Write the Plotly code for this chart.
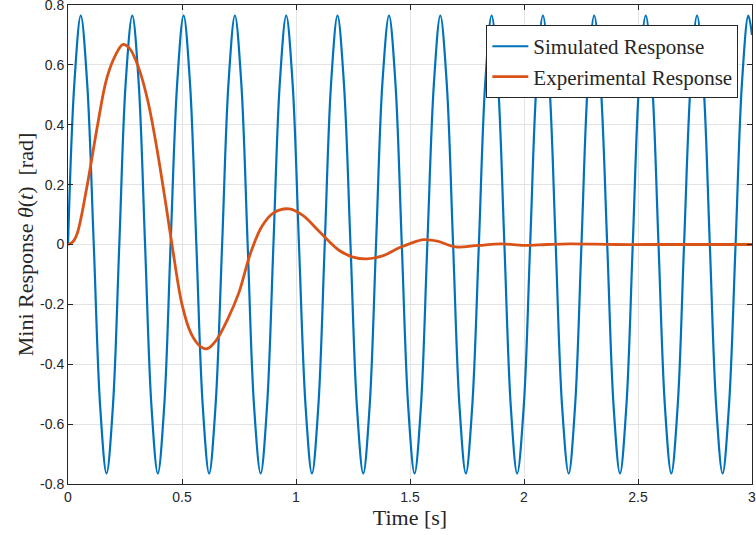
import plotly.graph_objects as go

# simulated response: peaks / zero crossings / troughs read every 1/8 period
sim_t = [
    0.000, 0.028, 0.056, 0.084, 0.113, 0.141, 0.169, 0.197,
    0.225, 0.253, 0.282, 0.310, 0.338, 0.366, 0.394, 0.422,
    0.450, 0.479, 0.507, 0.535, 0.563, 0.591, 0.619, 0.647,
    0.676, 0.704, 0.732, 0.760, 0.788, 0.816, 0.845, 0.873,
    0.901, 0.929, 0.957, 0.985, 1.013, 1.042, 1.070, 1.098,
    1.126, 1.154, 1.182, 1.210, 1.239, 1.267, 1.295, 1.323,
    1.351, 1.379, 1.408, 1.436, 1.464, 1.492, 1.520, 1.548,
    1.576, 1.605, 1.633, 1.661, 1.689, 1.717, 1.745, 1.773,
    1.802, 1.830, 1.858, 1.886, 1.914, 1.942, 1.970, 1.999,
    2.027, 2.055, 2.083, 2.111, 2.139, 2.167, 2.196, 2.224,
    2.252, 2.280, 2.308, 2.336, 2.365, 2.393, 2.421, 2.449,
    2.477, 2.505, 2.534, 2.562, 2.590, 2.618, 2.646, 2.674,
    2.702, 2.731, 2.759, 2.787, 2.815, 2.843, 2.871, 2.899,
    2.928, 2.956, 2.984, 3.000,
]
sim_y = [
    0, 0.54, 0.765, 0.54, 0, -0.54, -0.765, -0.54,
    0, 0.54, 0.765, 0.54, 0, -0.54, -0.765, -0.54,
    0, 0.54, 0.765, 0.54, 0, -0.54, -0.765, -0.54,
    0, 0.54, 0.765, 0.54, 0, -0.54, -0.765, -0.54,
    0, 0.54, 0.765, 0.54, 0, -0.54, -0.765, -0.54,
    0, 0.54, 0.765, 0.54, 0, -0.54, -0.765, -0.54,
    0, 0.54, 0.765, 0.54, 0, -0.54, -0.765, -0.54,
    0, 0.54, 0.765, 0.54, 0, -0.54, -0.765, -0.54,
    0, 0.54, 0.765, 0.54, 0, -0.54, -0.765, -0.54,
    0, 0.54, 0.765, 0.54, 0, -0.54, -0.765, -0.54,
    0, 0.54, 0.765, 0.54, 0, -0.54, -0.765, -0.54,
    0, 0.54, 0.765, 0.54, 0, -0.54, -0.765, -0.54,
    0, 0.54, 0.765, 0.54, 0, -0.54, -0.765, -0.54,
    0, 0.54, 0.765, 0.70,
]

# experimental response (damped)
exp_t = [0, 0.02, 0.04, 0.08, 0.13, 0.17, 0.21, 0.24, 0.27, 0.31, 0.35, 0.39,
         0.43, 0.46, 0.50, 0.54, 0.58, 0.61, 0.65, 0.70, 0.75, 0.80, 0.85, 0.90,
         0.97, 1.03, 1.10, 1.19, 1.25, 1.31, 1.38, 1.45, 1.50, 1.56, 1.62, 1.70,
         1.80, 1.90, 2.00, 2.10, 2.20, 2.40, 2.60, 2.80, 3.00]
exp_y = [0, 0.008, 0.036, 0.18, 0.40, 0.555, 0.635, 0.668, 0.655, 0.59, 0.48, 0.32,
         0.13, -0.02, -0.2, -0.298, -0.34, -0.348, -0.32, -0.25, -0.16, -0.03, 0.06, 0.105,
         0.119, 0.097, 0.045, -0.02, -0.042, -0.048, -0.038, -0.012, 0.003, 0.016, 0.011, -0.008,
         -0.003, 0.002, -0.003, 0.0, 0.002, 0.0, 0.0, 0.0, 0.0]

x_ticks = [0, 0.5, 1, 1.5, 2, 2.5, 3]
x_labels = ['0', '0.5', '1', '1.5', '2', '2.5', '3']
y_ticks = [-0.8, -0.6, -0.4, -0.2, 0, 0.2, 0.4, 0.6, 0.8]
y_labels = ['-0.8', '-0.6', '-0.4', '-0.2', '0', '0.2', '0.4', '0.6', '0.8']

fig = go.Figure()
fig.add_trace(go.Scatter(x=sim_t, y=sim_y, mode='lines', name='Simulated Response',
                         line=dict(color='#0072BD', width=2.2, shape='spline', smoothing=1)))
fig.add_trace(go.Scatter(x=exp_t, y=exp_y, mode='lines', name='Experimental Response',
                         line=dict(color='#D95319', width=2.8, shape='spline', smoothing=1)))

axis_common = dict(showline=True, linecolor='#262626', linewidth=1, mirror='ticks',
                   ticks='inside', ticklen=5, tickcolor='#262626', automargin=False,
                   ticklabeloverflow='allow',
                   showgrid=True, gridcolor='#e3e3e3', gridwidth=1, zeroline=False,
                   tickfont=dict(family='Liberation Sans, Arial', size=14, color='#262626'))

fig.update_xaxes(range=[0, 3], tickvals=x_ticks, ticktext=x_labels,
                 title=dict(text='Time [s]', font=dict(family='Liberation Serif, serif', size=22, color='#262626'),
                            standoff=2),
                 **axis_common)
fig.update_yaxes(range=[-0.8, 0.8], tickvals=y_ticks, ticktext=y_labels,
                 title=dict(text='Mini Response <i>θ</i>(<i>t</i>)  [rad]',
                            font=dict(family='Liberation Serif, serif', size=22, color='#262626'),
                            standoff=0),
                 **axis_common)

fig.update_layout(
    width=756, height=535,
    margin=dict(l=68, r=4, t=5, b=51),
    plot_bgcolor='white', paper_bgcolor='white',
    legend=dict(x=0.98, y=0.958, xanchor='right', yanchor='top',
                bgcolor='white', bordercolor='#262626', borderwidth=1,
                font=dict(family='Liberation Serif, serif', size=21, color='#262626'),
                tracegroupgap=0, itemwidth=36),
    showlegend=True,
)

# page body has a default 8px margin; drop it so the figure fills the window
fig.write_html("out.html", config={'displayModeBar': False},
               post_script="document.body.style.margin='0';")
